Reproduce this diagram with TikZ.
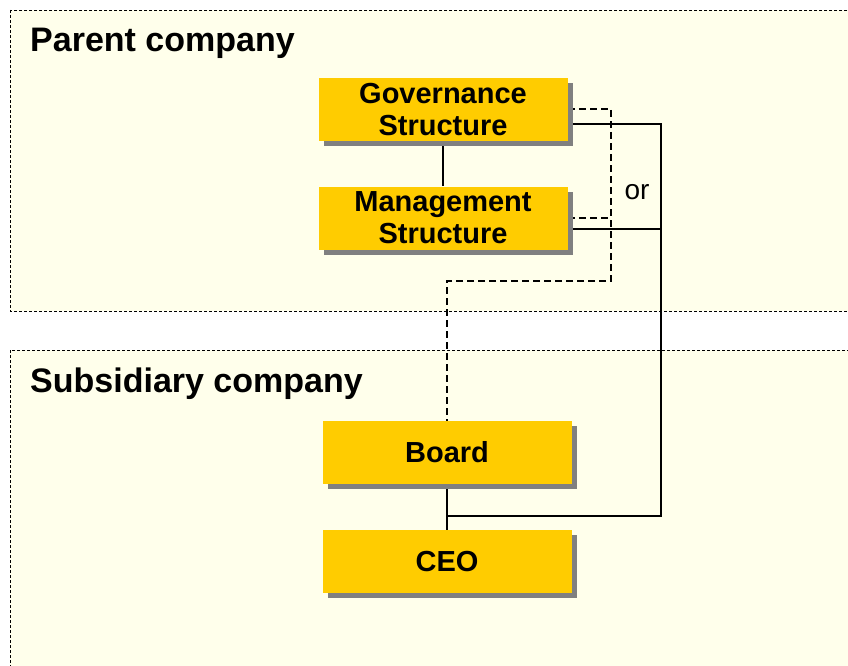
\documentclass[tikz,border=0pt]{standalone}
\usepackage{fontspec}
\setmainfont{Liberation Sans}
\usetikzlibrary{shadows}
\definecolor{companybg}{RGB}{255,255,235}
\definecolor{unitgold}{RGB}{255,204,0}

\begin{document}
\begin{tikzpicture}
[x=1pt,y=-1pt]
\tikzset{
	company/.style = {draw, fill = companybg, line width = 0.8pt, dash pattern = on 3pt off 2pt},
	heading/.style = {anchor = base west, inner sep = 0, font = \fontsize{34}{38}\selectfont\bfseries},
	unit/.style = {fill = unitgold, minimum width = 249, minimum height = 63, inner sep = 0, align = center,
		font = \fontsize{29}{32}\selectfont\bfseries,
		drop shadow = {shadow xshift = 5pt, shadow yshift = -5pt, fill = black!50, opacity = 1}},
	link/.style = {line width = 2pt},
	dotlink/.style = {line width = 2pt, dash pattern = on 7pt off 4pt}
}
\useasboundingbox (0,0) rectangle (848,666);

% the two companies
\draw [company] (10,10) rectangle (860,311);
\draw [company] (10,350) rectangle (860,680);
\node [heading] (parent) at (30,52) {Parent company};
\node [heading] (subsidiary) at (30,392) {Subsidiary company};

% corner points of the connectors
\coordinate (dtop) at (611,109);
\coordinate (dmid) at (611,218);
\coordinate (dlow) at (611,281);
\coordinate (dleft) at (447,281);
\coordinate (stop) at (661,124);
\coordinate (smid) at (661,229);
\coordinate (slow) at (661,516);
\coordinate (sleft) at (447,516);

% connectors
\draw [dotlink] (568,109) -- (dtop) -- (dlow) -- (dleft) -- (447,421);
\draw [dotlink] (568,218) -- (dmid);
\draw [link] (568,124) -- (stop) -- (slow) -- (sleft);
\draw [link] (568,229) -- (smid);
\draw [link] (443,140) -- (443,186);
\draw [link] (447,483) -- (447,530);
\node (or) at (637,192) {\fontsize{28}{32}\selectfont or};

% units
\node [unit] (gov) at (443,109.5) {Governance\\Structure};
\node [unit] (mgmt) at (443,218) {Management\\Structure};
\node [unit] (board) at (447,452) {Board};
\node [unit] (ceo) at (447,561.5) {CEO};
\end{tikzpicture}
\end{document}
